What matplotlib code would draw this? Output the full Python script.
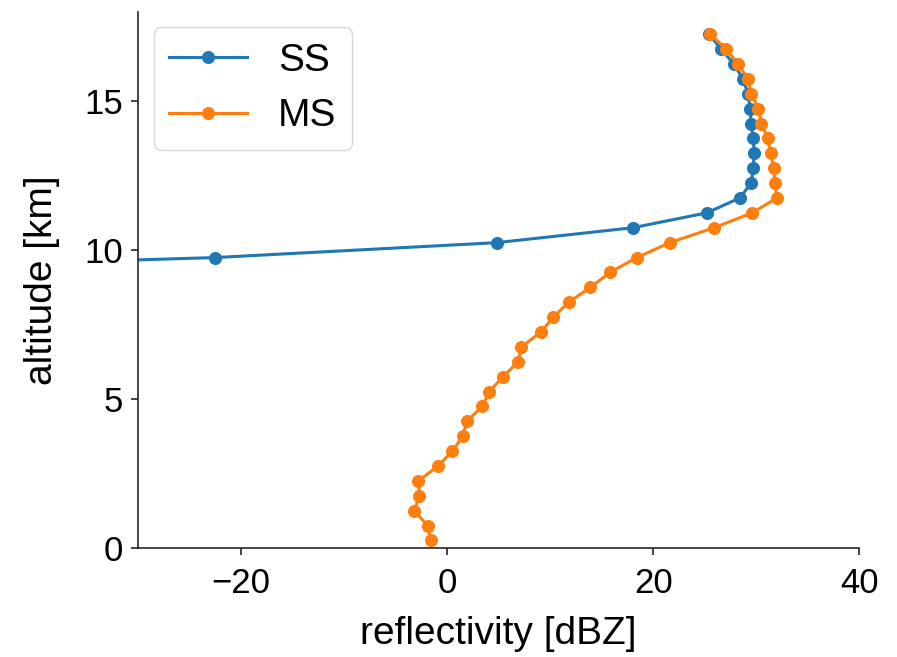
import numpy as np
import matplotlib
matplotlib.use("Agg")
from matplotlib import pyplot as plt

plt.rcParams['font.family'] = ['Liberation Sans', 'DejaVu Sans']

# altitude levels [km], bottom to top
altitude = [0.25, 0.75, 1.25, 1.75, 2.25, 2.75, 3.25, 3.75, 4.25, 4.75,
            5.25, 5.75, 6.25, 6.75, 7.25, 7.75, 8.25, 8.75, 9.25, 9.75,
            10.25, 10.75, 11.25, 11.75, 12.25, 12.75, 13.25, 13.75, 14.25, 14.75,
            15.25, 15.75, 16.25, 16.75, 17.25]

# single scattering reflectivity [dBZ]
ss = [np.nan, np.nan, np.nan, np.nan, np.nan, np.nan, np.nan, np.nan, np.nan, np.nan,
      np.nan, np.nan, np.nan, np.nan, np.nan, np.nan, np.nan, np.nan, -70.0, -22.5,
      4.8, 18.0, 25.2, 28.4, 29.5, 29.7, 29.8, 29.7, 29.5, 29.4,
      29.2, 28.7, 27.8, 26.6, 25.4]

# multiple scattering reflectivity [dBZ]
ms = [-1.6, -1.9, -3.2, -2.7, -2.8, -0.9, 0.5, 1.5, 1.9, 3.4,
      4.1, 5.4, 6.9, 7.2, 9.1, 10.3, 11.8, 13.9, 15.8, 18.4,
      21.6, 25.9, 29.6, 32.0, 31.8, 31.7, 31.4, 31.1, 30.5, 30.2,
      29.5, 29.2, 28.2, 27.1, 25.5]

fig = plt.figure(figsize=(8.97, 6.57), dpi=100)
ax = fig.add_axes([0.154, 0.166, 0.804, 0.816])

ax.plot(ss, altitude, '-o', color='#1f77b4', lw=2.2, ms=8.4, label='SS')
ax.plot(ms, altitude, '-o', color='#ff7f0e', lw=2.2, ms=8.4, label='MS')

ax.set_xlim(-30, 40)
ax.set_ylim(0, 18)
ax.set_xticks([-20, 0, 20, 40])
ax.set_yticks([0, 5, 10, 15])
ax.set_xlabel('reflectivity [dBZ]', fontsize=28, labelpad=11)
ax.set_ylabel('altitude [km]', fontsize=28, labelpad=17)
ax.tick_params(labelsize=25, width=1.2, length=5, color='#262626')
ax.tick_params(axis='x', pad=9)
ax.tick_params(axis='y', pad=6)
ax.spines['top'].set_visible(False)
ax.spines['right'].set_visible(False)
for s in ['left', 'bottom']:
    ax.spines[s].set_linewidth(1.2)
    ax.spines[s].set_color('#262626')

ax.legend(loc='upper left', fontsize=28, borderaxespad=0.4)

fig.savefig('out.png', dpi=100)
